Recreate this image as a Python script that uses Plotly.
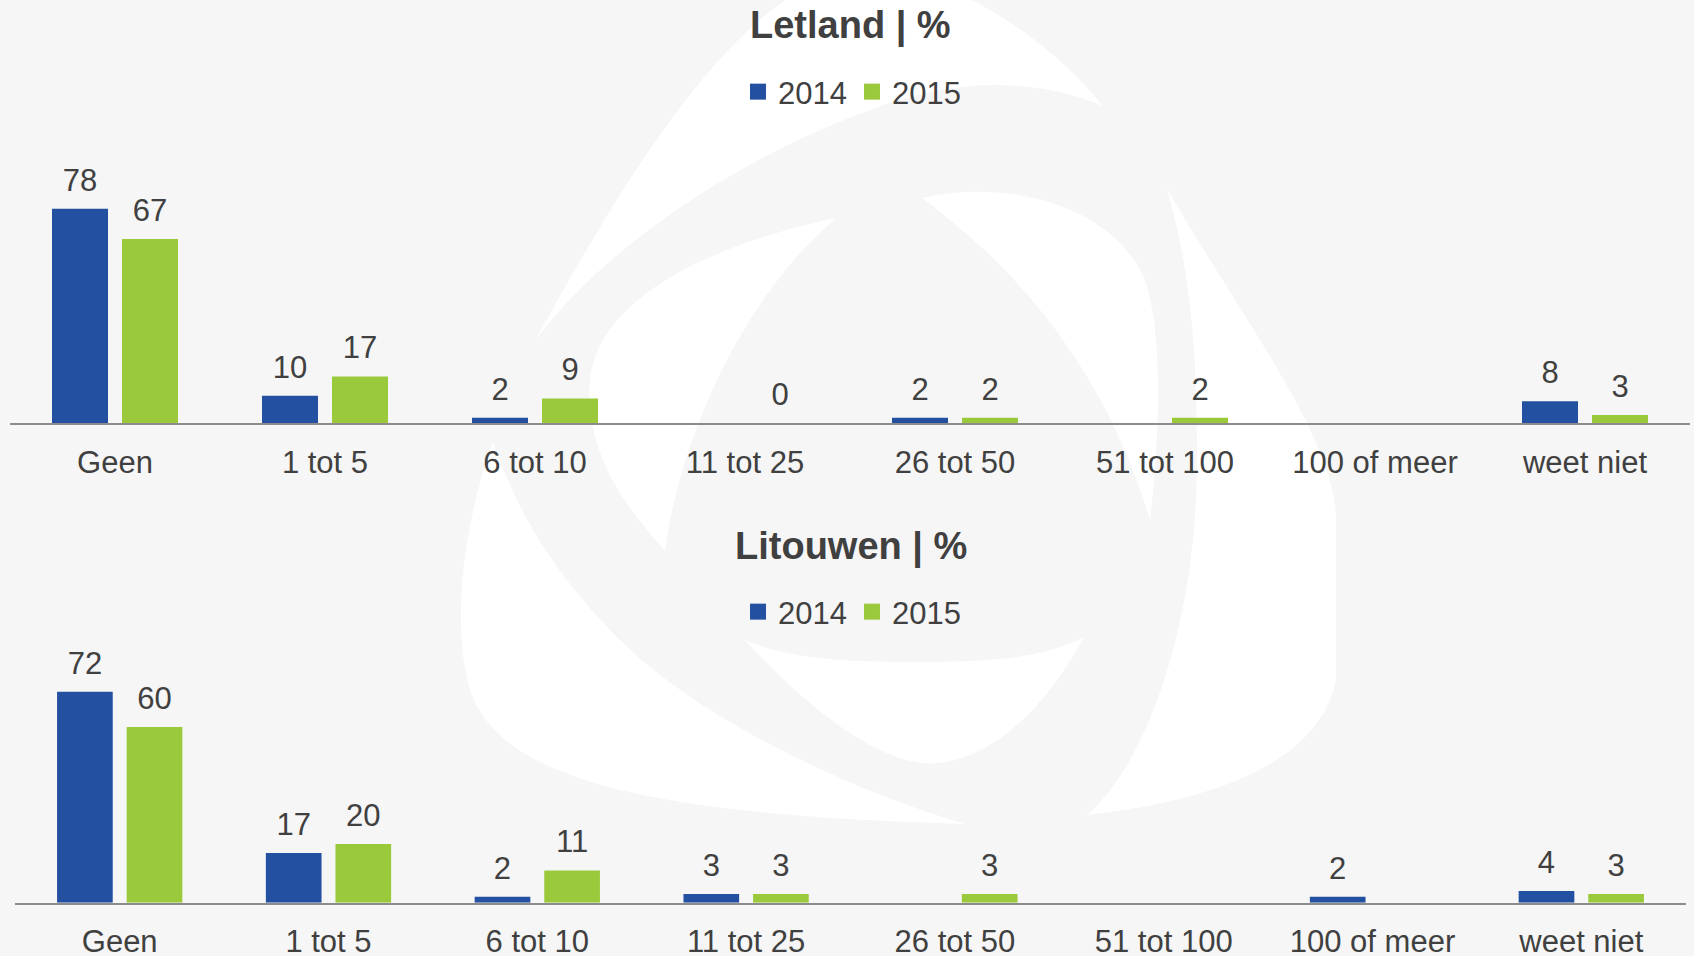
import re
import plotly.graph_objects as go

# ---------------- data ----------------
categories = ["Geen", "1 tot 5", "6 tot 10", "11 tot 25", "26 tot 50",
              "51 tot 100", "100 of meer", "weet niet"]
years = ["2014", "2015"]

letland_2014 = [78, 10, 2, None, 2, None, None, 8]
letland_2015 = [67, 17, 9, 0, 2, 2, None, 3]

litouwen_2014 = [72, 17, 2, 3, None, None, 2, 4]
litouwen_2015 = [60, 20, 11, 3, 3, None, None, 3]

title_top = "Letland | %"
title_bottom = "Litouwen | %"

# ---------------- style ----------------
W, H = 1694, 956
FONT = "Liberation Sans, Arial, sans-serif"
TXT = "#404040"
BLUE = "#2450A2"
GREEN = "#9BC93C"
BG = "#F6F6F6"
FS = 31
colors = {"2014": BLUE, "2015": GREEN}


def px_path(s):
    """convert an SVG path written in pixel coords into paper coords"""
    tokens = re.findall(r"[A-Za-z]|-?\d+\.?\d*", s)
    out, pend = [], []
    for t in tokens:
        if t.isalpha():
            out.append(t)
        else:
            pend.append(float(t))
            if len(pend) == 2:
                x, y = pend
                out.append(f"{x / W:.5f},{1 - y / H:.5f}")
                pend = []
    return " ".join(out)


watermark = [
    "M 536,339 C 640,150 760,-40 880,-30 C 960,-20 1050,40 1103,106 "
    "C 1040,80 960,75 870,110 C 760,150 620,230 536,339 Z",
    "M 836,218 C 730,240 600,290 590,380 C 585,450 620,500 665,551 "
    "C 680,440 740,300 836,218 Z",
    "M 493,442 C 465,520 450,620 470,690 C 500,780 650,815 965,824 "
    "C 850,790 700,720 620,640 C 560,580 520,520 493,442 Z",
    "M 745,640 C 800,700 880,770 940,763 C 1000,755 1050,700 1084,637 "
    "C 1040,660 980,662 920,662 C 850,662 790,660 745,640 Z",
    "M 1167,189 C 1250,330 1335,440 1336,520 L 1336,680 "
    "C 1320,760 1220,800 1087,815 C 1150,760 1195,620 1197,470 "
    "C 1198,350 1190,270 1167,189 Z",
    "M 922,198 C 1000,180 1110,200 1145,280 C 1165,340 1158,450 1150,520 "
    "C 1120,420 1060,300 922,198 Z",
]

fig = go.Figure()

panels = [
    ("x", "y", "legend", "top", {"2014": letland_2014, "2015": letland_2015}),
    ("x2", "y2", "legend2", "bottom", {"2014": litouwen_2014, "2015": litouwen_2015}),
]

for xa, ya, lg, tag, series in panels:
    for yr in years:
        fig.add_trace(go.Bar(
            x=categories, y=series[yr], name=yr, xaxis=xa, yaxis=ya,
            legendgroup=tag + yr, showlegend=False, offsetgroup=yr,
            marker=dict(color=colors[yr], line=dict(width=0)),
            hoverinfo="x+y+name",
        ))
    for yr in years:
        # value labels placed above the bars
        fig.add_trace(go.Scatter(
            x=categories, y=series[yr], xaxis=xa, yaxis=ya, mode="markers+text",
            offsetgroup=yr, showlegend=False, hoverinfo="skip", legendgroup=tag + yr,
            marker=dict(size=15, color="rgba(0,0,0,0)"),
            text=[("" if v is None else str(v)) for v in series[yr]],
            textposition="top center", cliponaxis=False,
            textfont=dict(size=FS, color=TXT, family=FONT),
        ))
    for yr in years:
        # legend entry (square swatch)
        fig.add_trace(go.Scatter(
            x=[None], y=[None], xaxis=xa, yaxis=ya, mode="markers", name=yr,
            legend=lg, legendgroup=tag + yr, showlegend=True,
            marker=dict(symbol="square", size=16, color=colors[yr]),
        ))

axis_x = dict(type="category", showgrid=False, zeroline=False, showline=True,
              linecolor="#8C8C8C", linewidth=2, ticks="outside", ticklen=10,
              tickcolor="rgba(0,0,0,0)", tickfont=dict(size=FS, color=TXT, family=FONT),
              automargin=False, fixedrange=True)
axis_y = dict(visible=False, showgrid=False, zeroline=False, fixedrange=True,
              automargin=False)

legend_style = dict(orientation="h", xanchor="center", yanchor="middle",
                    font=dict(size=FS, color=TXT, family=FONT),
                    bgcolor="rgba(0,0,0,0)", itemwidth=30, traceorder="normal")

fig.update_layout(
    width=W, height=H,
    margin=dict(l=0, r=0, t=0, b=0, autoexpand=False),
    paper_bgcolor=BG, plot_bgcolor="rgba(0,0,0,0)",
    font=dict(family=FONT, color=TXT),
    barmode="group", bargap=1 / 3, bargroupgap=0.2,
    scattermode="group", scattergap=1 / 3,
    xaxis=dict(axis_x, domain=[10 / W, 1690 / W], anchor="y"),
    yaxis=dict(axis_y, domain=[(H - 423.3) / H, (H - 148.3) / H], range=[0, 100], anchor="x"),
    xaxis2=dict(axis_x, domain=[15.3 / W, 1685.7 / W], anchor="y2"),
    yaxis2=dict(axis_y, domain=[(H - 902.7) / H, (H - 668.3) / H], range=[0, 80], anchor="x2"),
    legend=dict(legend_style, x=852 / W, y=1 - 92 / H),
    legend2=dict(legend_style, x=852 / W, y=1 - 612 / H),
    showlegend=True,
    annotations=[
        dict(text=f"<b>{title_top}</b>", xref="paper", yref="paper", x=850 / W,
             y=1 - 25.5 / H, xanchor="center", yanchor="middle", showarrow=False,
             font=dict(size=38, color=TXT, family=FONT)),
        dict(text=f"<b>{title_bottom}</b>", xref="paper", yref="paper", x=851 / W,
             y=1 - 546.5 / H, xanchor="center", yanchor="middle", showarrow=False,
             font=dict(size=38, color=TXT, family=FONT)),
    ],
    shapes=[dict(type="path", path=px_path(p), xref="paper", yref="paper",
                 fillcolor="white", line=dict(width=0), layer="below")
            for p in watermark],
)

fig.write_html(
    "out.html",
    config={"displayModeBar": False},
    post_script="document.body.style.margin='0px';document.body.style.overflow='hidden';",
)
